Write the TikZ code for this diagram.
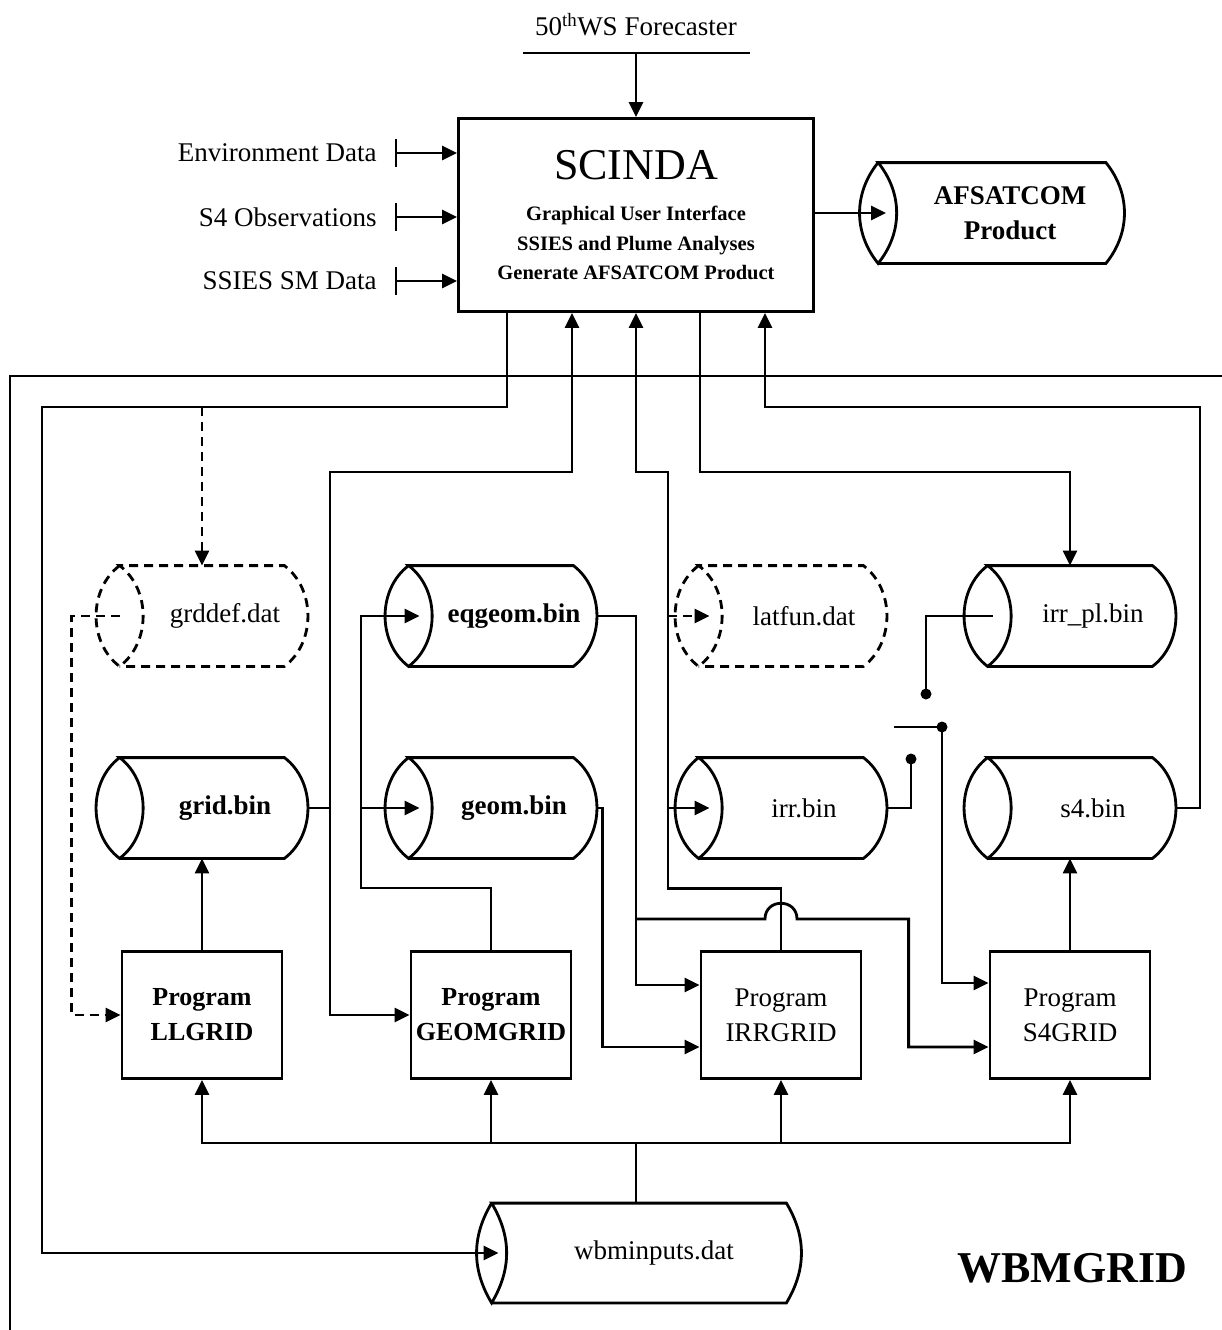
\documentclass[tikz,border=0pt]{standalone}
\usepackage{fontspec}
\setmainfont{Liberation Serif}
\usepackage{tikz}
\usetikzlibrary{arrows.meta,calc}

\begin{document}
\begin{tikzpicture}[x=1pt, y=-1pt, >={Triangle[length=15pt,width=14pt]},
        line width=2.8pt,
    txt/.style   = {font=\fontsize{27}{35}\selectfont},
    prog/.style  = {draw, txt, minimum width=160pt, minimum height=127pt, align=center, inner sep=1pt},
    progb/.style = {prog, font=\fontsize{26}{35}\selectfont\bfseries},
    store/.style = {txt, minimum width=162pt, minimum height=98pt, inner sep=0pt, align=center},
    storeb/.style = {store, font=\fontsize{27}{35}\selectfont\bfseries},
    dashline/.style = {dash pattern=on 9pt off 6pt},
    feed/.style  = {txt, anchor=east, inner sep=0pt},
                    ]
    \useasboundingbox (0,0) rectangle (1222,1330);
    % frame of WBMGRID
    \draw[line width=1.2pt] (10,1330) |- (1222,376);
    \node[font=\fontsize{44}{50}\selectfont\bfseries] (title) at (1072,1268) {WBMGRID};
    %
    \node[txt] (fcst) at (636,25) {50\textsuperscript{th}WS Forecaster};
    \coordinate (barl) at (523,53);
    \coordinate (barr) at (750,53);
    \node[draw, minimum width=355pt, minimum height=193pt, align=center, inner sep=0pt,
          font=\fontsize{20.5}{29.5}\selectfont\bfseries] (scinda) at (636,215)
        {{\fontsize{44}{50}\selectfont\mdseries SCINDA}\\[12pt]
         Graphical User Interface\\ SSIES and Plume Analyses\\ Generate AFSATCOM Product};
    \node[storeb, minimum width=225pt] (afsat) at (1010,213) {AFSATCOM\\Product};
    %
    \node[progb] (llgrid)   at (202,1015)  {Program\\LLGRID};
    \node[progb] (geomgrid) at (491,1015)  {Program\\GEOMGRID};
    \node[prog]  (irrgrid)  at (781,1015)  {Program\\IRRGRID};
    \node[prog]  (s4grid)   at (1070,1015) {Program\\S4GRID};
    %
    \node[store]  (grddef)  at (225,616)  {grddef.dat};
    \node[storeb] (eqgeom)  at (514,616)  {eqgeom.bin};
    \node[store]  (latfun)  at (804,616)  {latfun.dat};
    \node[store]  (irrpl)   at (1093,616) {irr\_pl.bin};
    \node[storeb] (grid)    at (225,808)  {grid.bin};
    \node[storeb] (geombin) at (514,808)  {geom.bin};
    \node[store]  (irrbin)  at (804,808)  {irr.bin};
    \node[store]  (s4bin)   at (1093,808) {s4.bin};
    \node[store, minimum width=292pt, minimum height=97pt] (wbm) at (654,1253) {wbminputs.dat};
    %
    \foreach \n/\lw/\ang/\s in {grid/23/53/solid, geombin/23/53/solid, irrbin/23/53/solid,
            s4bin/23/53/solid, eqgeom/23/53/solid, irrpl/23/53/solid,
            grddef/23/53/dashline, latfun/23/53/dashline, afsat/18/39/solid, wbm/15/31/solid}
    {
      \draw[\s] ($(\n.north west)+(-\lw,0)$) coordinate (tl)
          to[bend right=\ang] ($(\n.south west)+(-\lw,0)$) coordinate (bl)
          to[bend right=\ang] (tl) -- ($(\n.north east)+(-\lw,0)$)
          to[bend left=\ang] ($(\n.south east)+(-\lw,0)$) -- (bl);
    }
    %
    \foreach \t [count=\i] in {Environment Data, S4 Observations, SSIES SM Data}
    {
      \node[feed] (in\i) at (378,89+64*\i) {\t};
      \coordinate (tk\i) at (396,89+64*\i);
      \draw[line width=2pt] ($(tk\i)+(0,-14)$) -- ($(tk\i)+(0,14)$);
      \draw[->] (tk\i) -- (tk\i -| scinda.west);
    }
    \draw (barl) -- (barr);
    \draw[->] (scinda.north |- barl) -- (scinda.north);
    \draw[->] (scinda.east |- afsat) -- ($(afsat.west)+(-10,0)$);
    %
    \coordinate (lft) at (42,407);
    \coordinate (rgt) at (1200,407);
    \coordinate (hb)  at (330,472);
    \coordinate (it)  at (668,472);
    \coordinate (gt)  at (361,888);
    \coordinate (et)  at (636,919);
    \coordinate (bus) at (636,1143);
    %
    \draw[->] ($(scinda.south)+(-129,0)$) |- (lft) |- ($(wbm.west)+(-8,0)$);
    \draw[->, dashline] (llgrid |- lft) -- (llgrid |- grddef.north);
    \draw[->, dashline] ($(grddef.west)+(-23,0)$) -- ++(-48,0) |- (llgrid.west);
    \draw[->] (llgrid.north) -- (llgrid.north |- grid.south);
    \draw[->] (grid.east) -| (hb) -| ($(scinda.south)+(-64,0)$);
    \draw[->] (grid.east -| hb) |- (geomgrid.west);
    \draw[->] (geomgrid.north) |- (gt) |- ($(eqgeom.west)+(-12,0)$);
    \draw[->] (geombin.west -| gt) -- ($(geombin.west)+(-12,0)$);
    \draw[->] (eqgeom.east) -| (et) |- ($(irrgrid.west)+(0,-30)$);
    \draw[->] (et) -- ($(irrgrid.north |- et)+(-16,0)$)
        .. controls +(0,-21) and +(0,-21) .. ($(irrgrid.north |- et)+(16,0)$)
        -| ($(s4grid.west)+(-80,32)$) -- ($(s4grid.west)+(0,32)$);
    \draw[->] (geombin.east) -- ++(6,0) |- ($(irrgrid.west)+(0,32)$);
    \draw[->] (irrgrid.north) -- ++(0,-62) -| (it) -| (scinda.south);
    \draw[->, dashline] (latfun.west -| it) -- ($(latfun.west)+(-12,0)$);
    \draw[->] (irrbin.west -| it) -- ($(irrbin.west)+(-12,0)$);
    \draw[->] ($(scinda.south)+(64,0)$) |- (s4grid |- it) -- (s4grid |- irrpl.north);
    \draw[->] (s4bin.east) -| (rgt) -| ($(scinda.south)+(129,0)$);
    \draw[->] (s4grid.north) -- (s4grid.north |- s4bin.south);
    % switch between irr.bin and irr_pl.bin
    \coordinate (swa) at (911,759);
    \coordinate (swb) at (942,727);
    \coordinate (swc) at (926,694);
    \draw (irrbin.east) -| (swa);
    \draw ($(swb)+(-48,0)$) -- (swb);
    \draw[->] (swb) |- ($(s4grid.west)+(0,-32)$);
    \draw (swc) |- ($(irrpl.west)+(-18,0)$);
    \foreach \p in {swa,swb,swc} \fill (\p) circle (5.5pt);
    %
    \draw (bus) -- (bus |- wbm.north);
    \foreach \p in {llgrid,geomgrid,irrgrid,s4grid}
      \draw[->] (bus) -| (\p.south);
\end{tikzpicture}
\end{document}
